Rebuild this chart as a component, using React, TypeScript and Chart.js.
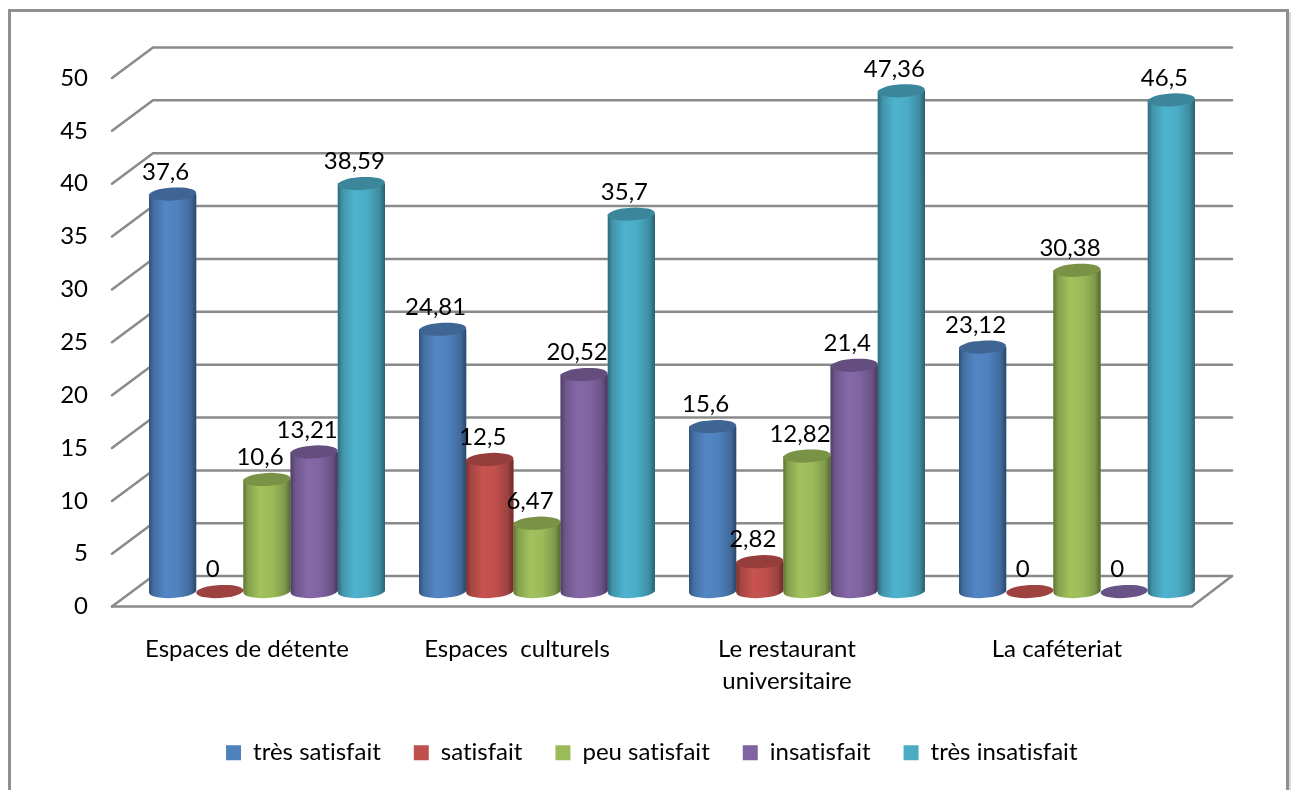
import React, { useEffect, useRef } from "react";
import { Chart, registerables } from "chart.js";

Chart.register(...registerables);

const categories = [["Espaces de détente"], ["Espaces  culturels"], ["Le restaurant", "universitaire"], ["La caféteriat"]];
const yMaxTick = 50;
const yStep = 5;
const tresSatisfait = [37.6, 24.81, 15.6, 23.12];
const satisfait = [0, 12.5, 2.82, 0];
const peuSatisfait = [10.6, 6.47, 12.82, 30.38];
const insatisfait = [13.21, 20.52, 21.4, 0];
const tresInsatisfait = [38.59, 35.7, 47.36, 46.5];

const FONT = "Lato, Carlito, sans-serif";
const GRID = "#8a8a8a";
const DEPTH_X = 41;
const DEPTH_Y = 30.5;

const shade = (hex: string, k: number) => {
  const n = parseInt(hex.slice(1), 16);
  const c = [(n >> 16) & 255, (n >> 8) & 255, n & 255].map((v) => Math.min(255, Math.round(v * k)));
  return `rgb(${c[0]},${c[1]},${c[2]})`;
};

const framePlugin = {
  id: "frame",
  beforeDraw(chart: any) {
    const { ctx, width, height } = chart;
    ctx.letterSpacing = "0.01px";
    ctx.save();
    ctx.fillStyle = "#fff";
    ctx.fillRect(0, 0, width, height);
    ctx.fillStyle = "#d9d9d9";
    ctx.fillRect(1289, 12, 2, height);
    ctx.strokeStyle = "#8f8f8f";
    ctx.lineWidth = 3;
    ctx.strokeRect(9.5, 10.5, 1278, height + 20);
    ctx.restore();
  },
};

const wallPlugin = {
  id: "wall",
  beforeDatasetsDraw(chart: any) {
    const { ctx, scales } = chart;
    const y = scales.y;
    const x = scales.x;
    ctx.save();
    ctx.strokeStyle = GRID;
    ctx.lineWidth = 2.5;
    ctx.lineCap = "round";
    y.ticks.forEach((t: any) => {
      const py = y.getPixelForValue(t.value);
      ctx.beginPath();
      ctx.moveTo(x.left, py);
      ctx.lineTo(x.left + DEPTH_X, py - DEPTH_Y);
      ctx.lineTo(x.right + DEPTH_X - 1, py - DEPTH_Y);
      ctx.stroke();
    });
    const p0 = y.getPixelForValue(0);
    ctx.beginPath();
    ctx.moveTo(x.left, p0);
    ctx.lineTo(x.right, p0);
    ctx.lineTo(x.right + DEPTH_X - 1, p0 - DEPTH_Y);
    ctx.stroke();
    ctx.restore();
  },
};

const cylinderPlugin = {
  id: "cylinder",
  afterDatasetsDraw(chart: any) {
    const { ctx } = chart;
    const base = chart.scales.y2.getPixelForValue(0);
    chart.data.datasets.forEach((ds: any, di: number) => {
      chart.getDatasetMeta(di).data.forEach((bar: any) => {
        const w = bar.width;
        const left = bar.x - w / 2;
        const rx = w / 2;
        const ry = 6.5;
        const tilt = -0.055;
        const col = ds.backgroundColor;
        const g = ctx.createLinearGradient(left, 0, left + w, 0);
        g.addColorStop(0, shade(col, 0.62));
        g.addColorStop(0.1, shade(col, 0.86));
        g.addColorStop(0.35, shade(col, 1.04));
        g.addColorStop(0.62, shade(col, 1.0));
        g.addColorStop(0.88, shade(col, 0.82));
        g.addColorStop(1, shade(col, 0.55));
        ctx.save();
        if (bar.y < base - 0.5) {
          ctx.fillStyle = g;
          ctx.beginPath();
          ctx.moveTo(left, bar.y);
          ctx.lineTo(left, base);
          ctx.ellipse(bar.x, base, rx, ry, tilt, Math.PI, 0, true);
          ctx.lineTo(left + w, bar.y);
          ctx.closePath();
          ctx.fill();
          ctx.fillStyle = shade(col, 0.78);
          ctx.beginPath();
          ctx.ellipse(bar.x, bar.y, rx, ry, tilt, 0, Math.PI * 2);
          ctx.fill();
        } else {
          ctx.fillStyle = shade(col, 0.82);
          ctx.beginPath();
          ctx.ellipse(bar.x, base, rx, ry, tilt, 0, Math.PI * 2);
          ctx.fill();
        }
        ctx.restore();
      });
    });
  },
  afterDraw(chart: any) {
    const { ctx } = chart;
    ctx.save();
    ctx.fillStyle = "#000";
    ctx.font = `24px ${FONT}`;
    ctx.textAlign = "center";
    ctx.textBaseline = "middle";
    chart.data.datasets.forEach((ds: any, di: number) => {
      chart.getDatasetMeta(di).data.forEach((bar: any, i: number) => {
        const text = String(ds.data[i].y).replace(".", ",");
        ctx.fillText(text, bar.x - 7, bar.y - 22);
      });
    });
    ctx.restore();
  },
};

const series: [string, number[], string][] = [
  ["très satisfait", tresSatisfait, "#4f81bd"],
  ["satisfait", satisfait, "#c0504d"],
  ["peu satisfait", peuSatisfait, "#9bbb59"],
  ["insatisfait", insatisfait, "#8064a2"],
  ["très insatisfait", tresInsatisfait, "#4bacc6"],
];

export default function App() {
  const ref = useRef<HTMLCanvasElement>(null);
  useEffect(() => {
    document.body.style.margin = "0";
    const chart = new Chart(ref.current as HTMLCanvasElement, {
      type: "bar",
      data: {
        labels: categories as any,
        datasets: series.map(([label, values, color]) => ({
          label,
          data: values.map((y, x) => ({ x, y })),
          backgroundColor: color,
          xAxisID: "x2",
          yAxisID: "y2",
          categoryPercentage: 0.874,
          barPercentage: 1,
        })) as any,
      },
      plugins: [framePlugin, wallPlugin, cylinderPlugin],
      options: {
        animation: false,
        responsive: false,
        layout: { padding: { left: 10, top: 78, right: 0, bottom: 15.3 } },
        plugins: {
          tooltip: { enabled: false },
          title: { display: false },
          legend: {
            position: "bottom",
            maxHeight: 200,
            labels: {
              boxWidth: 15,
              boxHeight: 15,
              padding: 33,
              color: "#000",
              font: { family: FONT, size: 24 },
            },
          },
        },
        scales: {
          x: {
            type: "category",
            position: "bottom",
            offset: true,
            grid: { display: false, drawTicks: false },
            border: { display: false },
            ticks: {
              color: "#000",
              font: { family: FONT, size: 24, lineHeight: 1.33 },
              padding: 27,
              maxRotation: 0,
              autoSkip: false,
            },
            afterFit: (s: any) => { s.height = 101.1; },
          },
          x2: {
            type: "linear",
            axis: "x",
            display: false,
            offset: false,
            min: -155 / 270,
            max: 4 - 155 / 270,
            ticks: { stepSize: 1, includeBounds: false },
          },
          y: {
            type: "linear",
            position: "left",
            min: 0,
            max: yMaxTick,
            grid: { display: false, drawTicks: false },
            border: { display: false },
            ticks: {
              stepSize: yStep,
              color: "#000",
              font: { family: FONT, size: 24 },
              padding: 24,
            },
            afterFit: (s: any) => { s.width = 102; },
          },
          y2: {
            type: "linear",
            axis: "y",
            display: false,
            min: -15 / 10.53,
            max: 50 - 15 / 10.53,
          },
          yR: {
            type: "linear",
            position: "right",
            grid: { display: false, drawTicks: false },
            border: { display: false },
            ticks: { display: false },
            afterFit: (s: any) => { s.width = 103; },
          },
        },
      } as any,
    });
    return () => chart.destroy();
  }, []);
  return (
    <div style={{ position: "absolute", left: 0, top: 0, width: 1295, height: 790, overflow: "hidden" }}>
      <canvas ref={ref} width={1295} height={790} style={{ display: "block" }} />
    </div>
  );
}
